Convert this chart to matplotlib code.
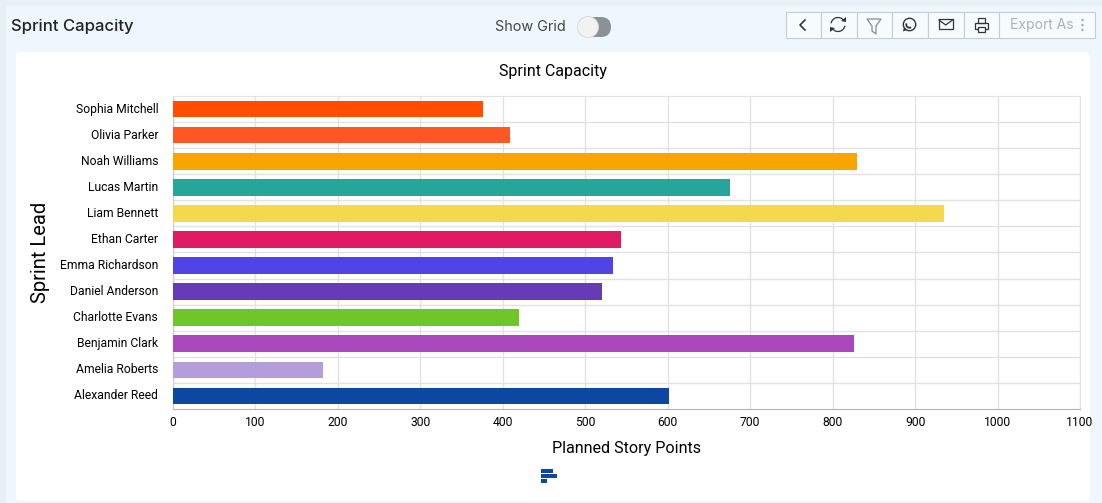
import matplotlib
matplotlib.use('Agg')
import matplotlib.pyplot as plt
from matplotlib.patches import FancyBboxPatch, Rectangle, Circle, Arc, Polygon
from matplotlib.transforms import ScaledTranslation

leads = ['Sophia Mitchell', 'Olivia Parker', 'Noah Williams', 'Lucas Martin', 'Liam Bennett', 'Ethan Carter',
         'Emma Richardson', 'Daniel Anderson', 'Charlotte Evans', 'Benjamin Clark', 'Amelia Roberts', 'Alexander Reed']
points = [376, 409, 830, 675, 935, 543, 534, 520, 420, 826, 182, 601]
colours = ['#ff4e00', '#ff5722', '#f7a600', '#26a69a', '#f4d94e', '#e01b63',
           '#5144e3', '#673ab7', '#70c528', '#ab47bc', '#b39ddb', '#0d47a1']
x_ticks = list(range(0, 1101, 100))

plt.rcParams['font.family'] = ['Roboto', 'DejaVu Sans']

W, H = 1102, 503
fig = plt.figure(figsize=(W / 100, H / 100), dpi=100, facecolor='#eef7fe')

# page furniture, drawn in pixel coordinates
bg = fig.add_axes([0, 0, 1, 1], zorder=0)
bg.set_xlim(0, W)
bg.set_ylim(H, 0)
bg.axis('off')
bg.add_patch(Rectangle((0, 0), W, 6, color='#e8f1f6', lw=0))
bg.add_patch(Rectangle((0, 0), 6, H, color='#e6eff4', lw=0))
bg.add_patch(FancyBboxPatch((16, 52), 1074, 449, boxstyle='round,pad=0,rounding_size=5',
                            fc='white', ec='none'))

bg.text(11, 26, 'Sprint Capacity', family='Inter', fontsize=12, fontweight='medium',
        color='#222222', va='center')
bg.text(495, 26.5, 'Show Grid', family='Inter', fontsize=10.4, color='#444444', va='center')
bg.add_patch(FancyBboxPatch((578, 17), 33, 20, boxstyle='round,pad=0,rounding_size=10',
                            fc='#8c9196', ec='none'))
bg.add_patch(Circle((588, 27), 10.5, fc='#f2f2f2', ec='#d8d8d8', lw=0.6, zorder=3))

# toolbar
edges = [786, 821, 857, 892, 928, 964, 999, 1095]
for left, right in zip(edges[:-1], edges[1:]):
    bg.add_patch(Rectangle((left, 12), right - left, 26, fc='#f6fbfe', ec='#c8cccf', lw=0.8))
dark = '#333333'
bg.plot([805, 800, 805], [20, 25, 30], color=dark, lw=1.2)
bg.add_patch(Arc((838, 24.5), 14, 14, theta1=190, theta2=320, color=dark, lw=0.9))
bg.add_patch(Arc((838, 24.5), 14, 14, theta1=10, theta2=140, color=dark, lw=0.9))
bg.add_patch(Polygon([(846, 17), (846, 22), (841, 21)], closed=True, color=dark, lw=0))
bg.add_patch(Polygon([(830, 32), (830, 27), (835, 28)], closed=True, color=dark, lw=0))
bg.add_patch(Polygon([(867, 19), (881, 19), (876, 26), (876, 34), (872, 31), (872, 26)],
                     closed=True, fc='none', ec='#8a8a8a', lw=0.9))
bg.add_patch(Circle((909.5, 24.5), 6.2, fc='none', ec=dark, lw=1))
bg.add_patch(Polygon([(903, 31.5), (904, 27), (907, 30)], closed=True, color=dark, lw=0))
bg.add_patch(Arc((909.5, 24.5), 6.5, 6.5, theta1=60, theta2=200, color=dark, lw=1.3))
bg.add_patch(Rectangle((939, 19), 13.5, 10, fc='none', ec=dark, lw=0.9))
bg.plot([939, 945.7, 952.5], [20, 25, 20], color=dark, lw=0.9)
bg.add_patch(Rectangle((975, 23), 13, 6, fc='none', ec=dark, lw=0.9))
bg.add_patch(Rectangle((978, 18), 7, 5, fc='none', ec=dark, lw=0.9))
bg.add_patch(Rectangle((978, 27), 7, 4.5, fc='#f6fbfe', ec=dark, lw=0.9))
bg.text(1010, 25, 'Export As', family='Inter', fontsize=10, color='#b0b0b0', va='center')
for y in (20, 25, 30):
    bg.add_patch(Circle((1082.5, y), 1.3, color='#b0b0b0', lw=0))

# the chart
x0, x1, y_top, y_bottom = 173, 1080, 96, 409
ax = fig.add_axes([x0 / W, 1 - y_bottom / H, (x1 - x0) / W, (y_bottom - y_top) / H], zorder=1)
ax.patch.set_alpha(0)
ax.barh(leads, points, height=0.64, color=colours, zorder=3)
ax.set_xlim(0, 1100)
ax.set_ylim(len(leads) - 0.5, -0.5)
ax.set_xticks(x_ticks)
ax.tick_params(axis='both', length=0, labelsize=8.7, colors='black')
ax.tick_params(axis='y', pad=10.7)
ax.tick_params(axis='x', pad=4.7)
ax.grid(True, color='#e2e2e2', lw=1, zorder=0)
ax.set_yticks([i + 0.5 for i in range(len(leads) - 1)], minor=True)
ax.grid(False, axis='y')
ax.grid(True, axis='y', which='minor', color='#e2e2e2', lw=1, zorder=0)
ax.tick_params(axis='y', which='minor', length=0)
lift = ScaledTranslation(0, 1.5 / 100, fig.dpi_scale_trans)
for label in ax.get_yticklabels():
    label.set_transform(label.get_transform() + lift)
for side in ('top', 'right'):
    ax.spines[side].set_color('#e2e2e2')
ax.spines['left'].set_color('#cccccc')
ax.spines['bottom'].set_color('#b5b5b5')

bg.text(553, 71, 'Sprint Capacity', fontsize=11.5, color='black', ha='center', va='center')
bg.text(627, 449, 'Planned Story Points', fontsize=11.6, color='black', ha='center', va='center')
bg.text(41, 252, 'Sprint Lead', fontsize=14.5, color='black', rotation=90, ha='center', va='center')

# legend swatch
bg.add_patch(Rectangle((541, 469), 12, 4, color='#0d47a1', lw=0))
bg.add_patch(Rectangle((541, 474), 16, 4, color='#0d47a1', lw=0))
bg.add_patch(Rectangle((541, 479), 6, 3.5, color='#0d47a1', lw=0))

fig.savefig('out.png', dpi=100, facecolor=fig.get_facecolor())
